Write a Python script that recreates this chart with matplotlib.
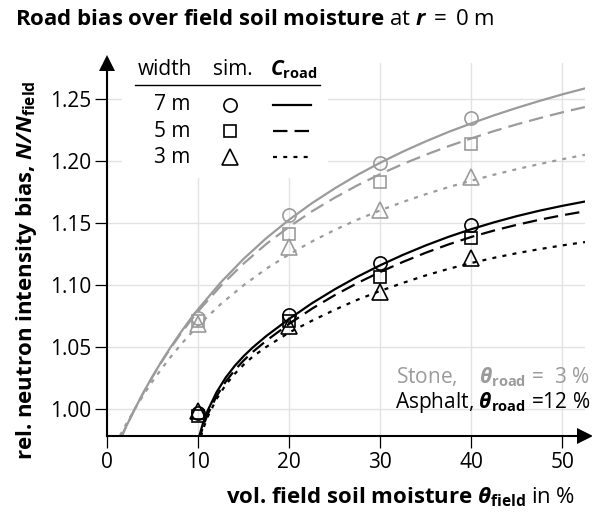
import matplotlib
matplotlib.use("Agg")
import matplotlib.pyplot as plt
from matplotlib.patches import Rectangle

FONT = "Open Sans"
plt.rcParams.update({
    "font.family": [FONT, "DejaVu Sans"],
    "mathtext.fontset": "custom",
    "mathtext.rm": FONT,
    "mathtext.it": FONT + ":italic",
    "mathtext.bf": FONT + ":bold",
    "mathtext.bfit": FONT + ":italic:bold",
})

GRAY = "#9b9b9b"

# simulated road bias N/N_field at r = 0 m
theta_sim = [10, 20, 30, 40]
stone_sim_7m = [1.0735, 1.157, 1.199, 1.235]
stone_sim_5m = [1.071, 1.141, 1.183, 1.214]
stone_sim_3m = [1.069, 1.131, 1.161, 1.187]
asphalt_sim_7m = [0.997, 1.076, 1.118, 1.149]
asphalt_sim_5m = [0.995, 1.071, 1.107, 1.138]
asphalt_sim_3m = [0.999, 1.067, 1.095, 1.122]

# correction function C_road, stone road (theta_road = 3 %)
theta_stone = [1.4, 2, 3, 4, 5, 6, 7, 8, 9, 10, 12.5, 15, 17.5, 20, 22.5, 25, 27.5,
               30, 32.5, 35, 37.5, 40, 42.5, 45, 47.5, 50, 52.5]
stone_7m = [0.9755, 0.9850, 1.0000, 1.0140, 1.0270, 1.0392, 1.0506, 1.0613, 1.0715, 1.0810,
            1.1026, 1.1215, 1.1382, 1.1530, 1.1663, 1.1782, 1.1891, 1.1989, 1.2079, 1.2161,
            1.2237, 1.2306, 1.2371, 1.2431, 1.2487, 1.2540, 1.2588]
stone_5m = [0.9755, 0.9850, 1.0000, 1.0138, 1.0267, 1.0386, 1.0498, 1.0602, 1.0700, 1.0792,
            1.0998, 1.1177, 1.1335, 1.1473, 1.1597, 1.1707, 1.1807, 1.1897, 1.1979, 1.2053,
            1.2122, 1.2185, 1.2244, 1.2298, 1.2348, 1.2395, 1.2438]
stone_3m = [0.9789, 0.9871, 1.0000, 1.0119, 1.0229, 1.0331, 1.0426, 1.0515, 1.0598, 1.0676,
            1.0851, 1.1002, 1.1135, 1.1251, 1.1354, 1.1447, 1.1530, 1.1605, 1.1673, 1.1735,
            1.1792, 1.1844, 1.1892, 1.1937, 1.1978, 1.2017, 1.2053]

# correction function C_road, asphalt road (theta_road = 12 %)
theta_asphalt = [10.0, 10.5, 11, 12, 13, 14, 15, 16, 17.5, 20, 22.5, 25, 27.5, 30, 32.5,
                 35, 37.5, 40, 42.5, 45, 47.5, 50, 52.5]
asphalt_7m = [0.9755, 0.9885, 0.9985, 1.0137, 1.0255, 1.0350, 1.0430, 1.0500, 1.0593, 1.0730,
              1.0856, 1.0968, 1.1070, 1.1162, 1.1246, 1.1322, 1.1391, 1.1453, 1.1508, 1.1558,
              1.1602, 1.1641, 1.1676]
asphalt_5m = [0.9730, 0.9855, 0.9955, 1.0105, 1.0222, 1.0316, 1.0395, 1.0464, 1.0555, 1.0690,
              1.0812, 1.0921, 1.1019, 1.1108, 1.1189, 1.1263, 1.1330, 1.1390, 1.1442, 1.1488,
              1.1529, 1.1565, 1.1597]
asphalt_3m = [0.9700, 0.9835, 0.9935, 1.0083, 1.0196, 1.0286, 1.0361, 1.0426, 1.0505, 1.0620,
              1.0715, 1.0803, 1.0884, 1.0955, 1.1020, 1.1080, 1.1133, 1.1180, 1.1222, 1.1259,
              1.1292, 1.1322, 1.1349]

road_widths = [7, 5, 3]
x_ticks = [0, 10, 20, 30, 40, 50]
y_ticks = [1.00, 1.05, 1.10, 1.15, 1.20, 1.25]

W, H = 592, 517
fx = lambda px: px / W
fy = lambda py: 1 - py / H

FS = 15      # normal text
FS_B = 16    # bold labels

fig = plt.figure(figsize=(W / 100, H / 100), dpi=100)
ax = fig.add_axes([fx(107.3), fy(436), fx(585) - fx(107.3), fy(63) - fy(436)])
ax.set_xlim(0, 52.5)
ax.set_ylim(0.9785, 1.2793)

styles = ["-", (0, (6.5, 3.2)), (0, (1.8, 2.8))]
markers = ["o", "s", "^"]
msizes = [9.5, 8.6, 11]

curves = [(theta_stone, [stone_7m, stone_5m, stone_3m], GRAY),
          (theta_asphalt, [asphalt_7m, asphalt_5m, asphalt_3m], "k")]
sims = [([stone_sim_7m, stone_sim_5m, stone_sim_3m], GRAY),
        ([asphalt_sim_7m, asphalt_sim_5m, asphalt_sim_3m], "k")]

for th, series, c in curves:
    for vals, ls in zip(series, styles):
        ax.plot(th, vals, color=c, lw=1.6, linestyle=ls, zorder=2)
for series, c in sims:
    for vals, m, ms in zip(series, markers, msizes):
        ax.plot(theta_sim, vals, ls="none", marker=m, ms=ms, mfc="none", mec=c, mew=1.2, zorder=3)

# axes with arrow heads
for s in ["top", "right"]:
    ax.spines[s].set_visible(False)
for s in ["left", "bottom"]:
    ax.spines[s].set_linewidth(1.5)
ax.plot(1, 0, marker=">", ms=12, color="k", mew=0, transform=ax.transAxes, clip_on=False)
ax.plot(0, 1, marker="^", ms=12, color="k", mew=0, transform=ax.transAxes, clip_on=False)

ax.set_xticks(x_ticks)
ax.set_yticks(y_ticks)
ax.set_yticklabels([f"{v:.2f}" for v in y_ticks])
ax.tick_params(direction="out", length=8.5, width=0.9, labelsize=FS, pad=3)
ax.grid(color="#e2e2e2", lw=1.0)
ax.set_axisbelow(True)

# legend table
ax.add_patch(Rectangle((fx(122), fy(178)), fx(328) - fx(122), fy(45) - fy(178),
                       transform=fig.transFigure, facecolor="white", edgecolor="none",
                       zorder=1.8, clip_on=False))
fig.text(fx(165), fy(75), "width", ha="center", va="baseline", fontsize=FS)
fig.text(fx(232.5), fy(75), "sim.", ha="center", va="baseline", fontsize=FS)
fig.text(fx(270), fy(75), r"$\mathbfit{C}_{\mathbf{road}}$", ha="left", va="baseline", fontsize=FS)
ax.plot([fx(135), fx(320)], [fy(85), fy(85)], color="k", lw=1.0,
        transform=fig.transFigure, clip_on=False)
for i, (w, m, ms, ls) in enumerate(zip(road_widths, markers, msizes, styles)):
    yc = 104.5 + 26 * i
    fig.text(fx(190), fy(yc + 6), f"{w} m", ha="right", va="baseline", fontsize=FS)
    ax.plot([fx(230)], [fy(yc)], marker=m, ms=ms, mfc="none", mec="k", mew=1.2,
            transform=fig.transFigure, clip_on=False)
    ax.plot([fx(273), fx(311)], [fy(yc), fy(yc)], color="k", lw=1.6, linestyle=ls,
            transform=fig.transFigure, clip_on=False)

# labels and notes
fig.text(fx(15), fy(25),
         r"Road bias over field soil moisture $\mathrm{at}\;\mathbfit{r}\;\mathrm{=}\;\mathrm{0\;m}$",
         fontsize=FS_B, fontweight="bold", ha="left", va="baseline")
fig.text(fx(575), fy(503),
         r"vol. field soil moisture $\mathbfit{\theta}_{\mathbf{field}}\;\mathrm{in\;\%}$",
         fontsize=FS_B, fontweight="bold", ha="right", va="baseline")
fig.text(fx(27), fy(270), r"rel. neutron intensity bias, $\mathbfit{N/N}_{\mathbf{field}}$",
         fontsize=FS_B, fontweight="bold", rotation=90, ha="center", va="center")
fig.text(fx(590), fy(383), r"Stone,    $\mathbfit{\theta}_{\mathbf{road}}$ =  3 %",
         color=GRAY, fontsize=FS, ha="right", va="baseline")
fig.text(fx(590), fy(408), r"Asphalt, $\mathbfit{\theta}_{\mathbf{road}}$ =12 %",
         color="k", fontsize=FS, ha="right", va="baseline")

fig.savefig("out.png", dpi=100)
